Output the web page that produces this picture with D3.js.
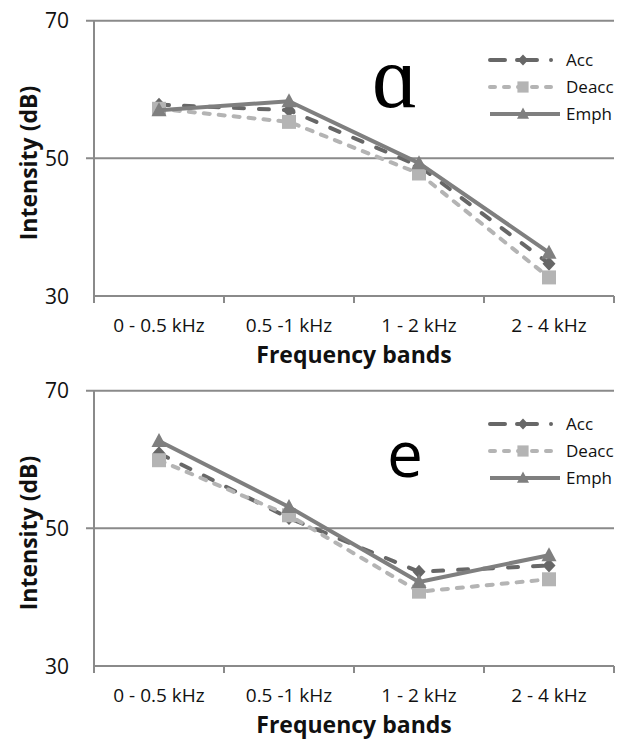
<!DOCTYPE html>
<html>
<head>
<meta charset="utf-8">
<script src="https://cdn.jsdelivr.net/npm/d3@7/dist/d3.min.js"></script>
<style>
  body { margin: 0; background: #fff; }
  svg { display: block; font-family: "Open Sans", Lato, sans-serif; }
</style>
</head>
<body>
<div id="chart"></div>
<script>
// Two stacked line charts: intensity per frequency band for the vowels ɑ and e.

const bands = ['0 - 0.5 kHz', '0.5 -1 kHz', '1 - 2 kHz', '2 - 4 kHz'];
const seriesNames = ['Acc', 'Deacc', 'Emph'];
const yTicks = [30, 50, 70];

// vowel ɑ
const alphaAcc   = [57.8, 57.0, 48.9, 34.7];
const alphaDeacc = [57.2, 55.3, 47.8, 32.7];
const alphaEmph  = [57.0, 58.3, 49.3, 36.3];

// vowel e
const eAcc   = [60.9, 51.5, 43.7, 44.6];
const eDeacc = [59.9, 51.9, 40.8, 42.6];
const eEmph  = [62.7, 53.1, 42.2, 46.1];

const W = 625, H = 740;
const axisColor = '#8a8a8a';
const style = {
  Acc:   { color: '#676767', dash: '10,15', legendDash: '15,12,20,14,0.01,10', marker: 'diamond' },
  Deacc: { color: '#b4b4b4', dash: '6,9',   legendDash: '5,9',                 marker: 'square' },
  Emph:  { color: '#7f7f7f', dash: null,    legendDash: null,                  marker: 'triangle' }
};

const svg = d3.select('#chart').append('svg')
  .attr('width', W).attr('height', H)
  .attr('viewBox', `0 0 ${W} ${H}`);

const x = d3.scaleBand().domain(bands).range([94, 614]).padding(0);
const y = d3.scaleLinear().domain([30, 70]).range([296, 20.7]);

function markerPath(kind) {
  if (kind === 'diamond') return 'M0,-7L6.5,0L0,7L-6.5,0Z';
  if (kind === 'square') return 'M-7,-7H7V7H-7Z';
  return 'M0,-8L7.5,6H-7.5Z';
}

function drawPanel(offsetY, series, letter, letterFont, letterSize, letterX, letterY, legendY) {
  const g = svg.append('g').attr('transform', `translate(0, ${offsetY})`);

  // gridlines + y ticks
  g.selectAll('.grid').data(yTicks).enter().append('line')
    .attr('x1', 86).attr('x2', (d) => d === 30 ? 86 : x.range()[1])
    .attr('y1', (d) => y(d)).attr('y2', (d) => y(d))
    .attr('stroke', axisColor).attr('stroke-width', 2);

  g.selectAll('.ylbl').data(yTicks).enter().append('text')
    .attr('x', 69).attr('y', (d) => y(d)).attr('dy', '0.36em')
    .attr('text-anchor', 'end').style('font-size', '21px').style('fill', '#111')
    .text((d) => d);

  // axes
  g.append('line').attr('x1', x.range()[0]).attr('x2', x.range()[0])
    .attr('y1', y(70)).attr('y2', y(30) + 7)
    .attr('stroke', axisColor).attr('stroke-width', 2);
  g.append('line').attr('x1', x.range()[0]).attr('x2', x.range()[1])
    .attr('y1', y(30)).attr('y2', y(30))
    .attr('stroke', axisColor).attr('stroke-width', 2);

  const edges = bands.map((b) => x(b) + x.bandwidth());
  g.selectAll('.xtick').data(edges).enter().append('line')
    .attr('x1', (d) => d).attr('x2', (d) => d)
    .attr('y1', y(30)).attr('y2', y(30) + 7)
    .attr('stroke', axisColor).attr('stroke-width', 2);

  g.selectAll('.xlbl').data(bands).enter().append('text')
    .attr('x', (d) => x(d) + x.bandwidth() / 2).attr('y', 332)
    .attr('text-anchor', 'middle').style('font-size', '19px').style('fill', '#111')
    .text((d) => d);

  g.append('text').attr('x', (x.range()[0] + x.range()[1]) / 2).attr('y', 363)
    .attr('text-anchor', 'middle').style('font-size', '23px').style('font-weight', 'bold')
    .style('fill', '#111').text('Frequency bands');

  g.append('text').attr('transform', 'translate(37, 163) rotate(-90)')
    .attr('text-anchor', 'middle').style('font-size', '23px').style('font-weight', 'bold')
    .style('fill', '#111').text('Intensity (dB)');

  // vowel label
  g.append('text').attr('x', letterX).attr('y', letterY).attr('text-anchor', 'middle')
    .style('font-family', letterFont).style('font-size', letterSize + 'px').style('fill', '#000')
    .text(letter);

  // series
  const cx = (i) => x(bands[i]) + x.bandwidth() / 2;
  const line = d3.line().x((d, i) => cx(i)).y((d) => y(d));

  seriesNames.forEach((name, k) => {
    const s = style[name];
    g.append('path').datum(series[k])
      .attr('d', line).attr('fill', 'none')
      .attr('stroke', s.color).attr('stroke-width', 4)
      .attr('stroke-linecap', s.dash ? 'round' : 'butt')
      .attr('stroke-linejoin', 'round')
      .attr('stroke-dasharray', s.dash);
    g.selectAll(null).data(series[k]).enter().append('path')
      .attr('transform', (d, i) => `translate(${cx(i)}, ${y(d)})`)
      .attr('d', markerPath(s.marker)).attr('fill', s.color);
  });

  // legend
  const lg = g.append('g');
  seriesNames.forEach((name, k) => {
    const s = style[name];
    const ly = legendY + k * 27;
    lg.append('line').attr('x1', 490).attr('x2', 560).attr('y1', ly).attr('y2', ly)
      .attr('stroke', s.color).attr('stroke-width', 4)
      .attr('stroke-linecap', s.dash ? 'round' : 'butt')
      .attr('stroke-dasharray', s.legendDash);
    lg.append('path').attr('transform', `translate(523, ${ly}) scale(0.8)`)
      .attr('d', markerPath(s.marker)).attr('fill', s.color);
    lg.append('text').attr('x', 566).attr('y', ly).attr('dy', '0.36em')
      .style('font-size', '17px').style('fill', '#111').text(name);
  });
}

drawPanel(0, [alphaAcc, alphaDeacc, alphaEmph], 'ɑ', '"Liberation Serif", "DejaVu Serif", serif', 88, 395, 107, 60);
drawPanel(370, [eAcc, eDeacc, eEmph], 'e', '"Open Sans", Lato, sans-serif', 64, 405, 107, 54);
</script>
</body>
</html>
